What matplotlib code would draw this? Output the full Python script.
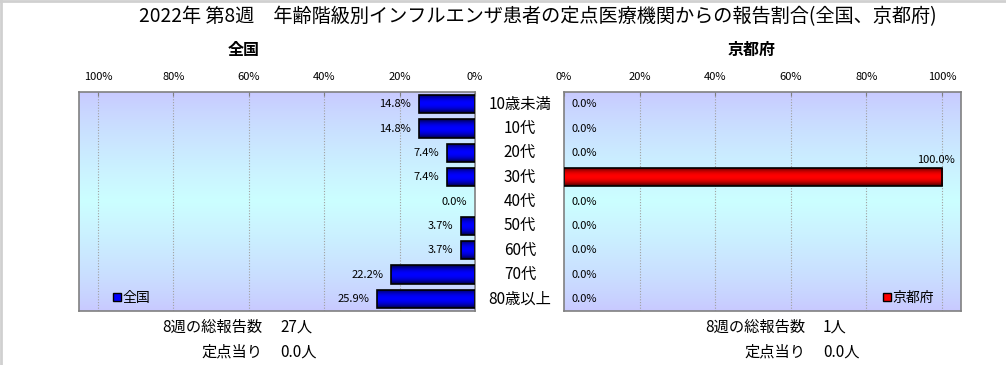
import numpy as np
import matplotlib
matplotlib.use("Agg")
import matplotlib.pyplot as plt
from matplotlib.transforms import blended_transform_factory
from matplotlib.patches import Rectangle
from matplotlib.lines import Line2D

plt.rcParams['font.family'] = ['Noto Sans CJK JP', 'DejaVu Sans']

title = "2022年 第8週　年齢階級別インフルエンザ患者の定点医療機関からの報告割合(全国、京都府)"
categories = ["10歳未満", "10代", "20代", "30代", "40代", "50代", "60代", "70代", "80歳以上"]
national = [14.8, 14.8, 7.4, 7.4, 0.0, 3.7, 3.7, 22.2, 25.9]
kyoto = [0.0, 0.0, 0.0, 100.0, 0.0, 0.0, 0.0, 0.0, 0.0]
ticks = [0, 20, 40, 60, 80, 100]
tick_labels = ["0%", "20%", "40%", "60%", "80%", "100%"]
panel_names = ["全国", "京都府"]
total_label = "8週の総報告数"
total_values = ["27人", "1人"]
per_label = "定点当り"
per_values = ["0.0人", "0.0人"]

W, H = 1006, 365
fig = plt.figure(figsize=(W / 100, H / 100), dpi=100)
fig.patch.set_facecolor('white')

def fx(px):
    return px / W

def fy(py):
    return 1 - py / H

# light gray frame on left and top edges
fig.add_artist(Line2D([fx(1), fx(1)], [0, 1], color='#d0d0d0', linewidth=2, transform=fig.transFigure))
fig.add_artist(Line2D([0, 1], [fy(1), fy(1)], color='#d0d0d0', linewidth=2, transform=fig.transFigure))

ax_l = fig.add_axes([fx(79), fy(311), fx(475) - fx(79), fy(92) - fy(311)])
ax_r = fig.add_axes([fx(564), fy(311), fx(961) - fx(564), fy(92) - fy(311)])

# background gradient: lavender - light cyan - lavender
n = 256
t = np.linspace(0, 1, n)
f = np.clip(1 - np.abs(t - 0.5) * 2, 0, 1) ** 0.8
bg = np.zeros((n, 1, 3))
bg[:, 0, 0] = (200 + 4 * f) / 255
bg[:, 0, 1] = (200 + 55 * f) / 255
bg[:, 0, 2] = 1.0

def bar_grad(main):
    g = np.zeros((n, 1, 3))
    prof = np.sin(np.pi * t) ** 0.7
    for c in range(3):
        g[:, 0, c] = main[c] * (0.12 + 0.88 * prof)
    return g

blue_grad = bar_grad((0.0, 0.0, 1.0))
red_grad = bar_grad((1.0, 0.0, 0.0))

y = np.arange(len(categories))

def setup(ax, vals, color, grad, inverted):
    ax.imshow(bg, extent=[0, 1, 0, 1], transform=ax.transAxes, aspect='auto', zorder=0)
    lws = [1.2 if v > 0 else 0 for v in vals]
    bars = ax.barh(y, vals, height=0.75, color=color, linewidth=0, zorder=2)
    for b in bars:
        bb = b.get_bbox()
        if bb.width == 0:
            continue
        im = ax.imshow(grad, extent=[bb.x0, bb.x1, bb.y1, bb.y0], aspect='auto', zorder=2.5)
        im.set_clip_path(b)
    ax.barh(y, vals, height=0.75, fill=False, edgecolor='black', linewidth=lws, zorder=3)
    if inverted:
        ax.set_xlim(105, 0)
    else:
        ax.set_xlim(0, 105)
    ax.set_ylim(len(categories) - 0.5, -0.5)
    ax.set_yticks([])
    ax.xaxis.tick_top()
    ax.set_xticks(ticks)
    ax.set_xticklabels(tick_labels, fontsize=8)
    ax.tick_params(axis='x', direction='in', length=3, color='#808080', pad=7)
    for gx in ticks[1:]:
        ax.axvline(gx, color='#a0a0a0', linestyle=(0, (1, 1.5)), linewidth=0.8, zorder=1)
    for s in ax.spines.values():
        s.set_color('#808080')
        s.set_linewidth(1.2)
    return bars

setup(ax_l, national, '#0000ff', blue_grad, True)
setup(ax_r, kyoto, '#ff0000', red_grad, False)

# value labels
for i, v in enumerate(national):
    ax_l.annotate(f"{v:.1f}%", xy=(v, i), xytext=(-8, 0), textcoords='offset pixels',
                  ha='right', va='center', fontsize=8, zorder=4)
for i, v in enumerate(kyoto):
    if v > 90:
        ax_r.annotate(f"{v:.1f}%", xy=(v, i - 0.375), xytext=(13, 3), textcoords='offset pixels',
                      ha='right', va='bottom', fontsize=8, zorder=4)
    else:
        ax_r.annotate(f"{v:.1f}%", xy=(v, i), xytext=(7, 0), textcoords='offset pixels',
                      ha='left', va='center', fontsize=8, zorder=4)

# category labels between the panels
tr = blended_transform_factory(fig.transFigure, ax_l.transData)
for i, c in enumerate(categories):
    ax_l.text(fx(520), i, c, transform=tr, ha='center', va='center', fontsize=11, clip_on=False)

# legends
for ax, name, color, lx in [(ax_l, panel_names[0], '#0000ff', 116), (ax_r, panel_names[1], '#ff0000', 886)]:
    h = Rectangle((0, 0), 1, 1, facecolor=color, edgecolor='black', linewidth=1)
    ax.legend([h], [name], loc='center left', frameon=False, fontsize=10,
              bbox_to_anchor=(fx(lx - 3), fy(298)), bbox_transform=fig.transFigure,
              handlelength=0.55, handleheight=0.55, handletextpad=0.15, borderpad=0, borderaxespad=0)

# titles
fig.text(fx(538), fy(17), title, ha='center', va='center', fontsize=13.8)
fig.text(fx(244), fy(50), panel_names[0], ha='center', va='center', fontsize=11.5, fontweight='bold')
fig.text(fx(752), fy(50), panel_names[1], ha='center', va='center', fontsize=11.5, fontweight='bold')

# bottom summary texts
for lx, vx, tv, pv in [(262, 280, total_values[0], per_values[0]), (805, 823, total_values[1], per_values[1])]:
    fig.text(fx(lx), fy(327), total_label, ha='right', va='center', fontsize=11)
    fig.text(fx(vx), fy(327), tv, ha='left', va='center', fontsize=11)
    fig.text(fx(lx), fy(352), per_label, ha='right', va='center', fontsize=11)
    fig.text(fx(vx), fy(352), pv, ha='left', va='center', fontsize=11)

fig.savefig("out.png", dpi=100)
